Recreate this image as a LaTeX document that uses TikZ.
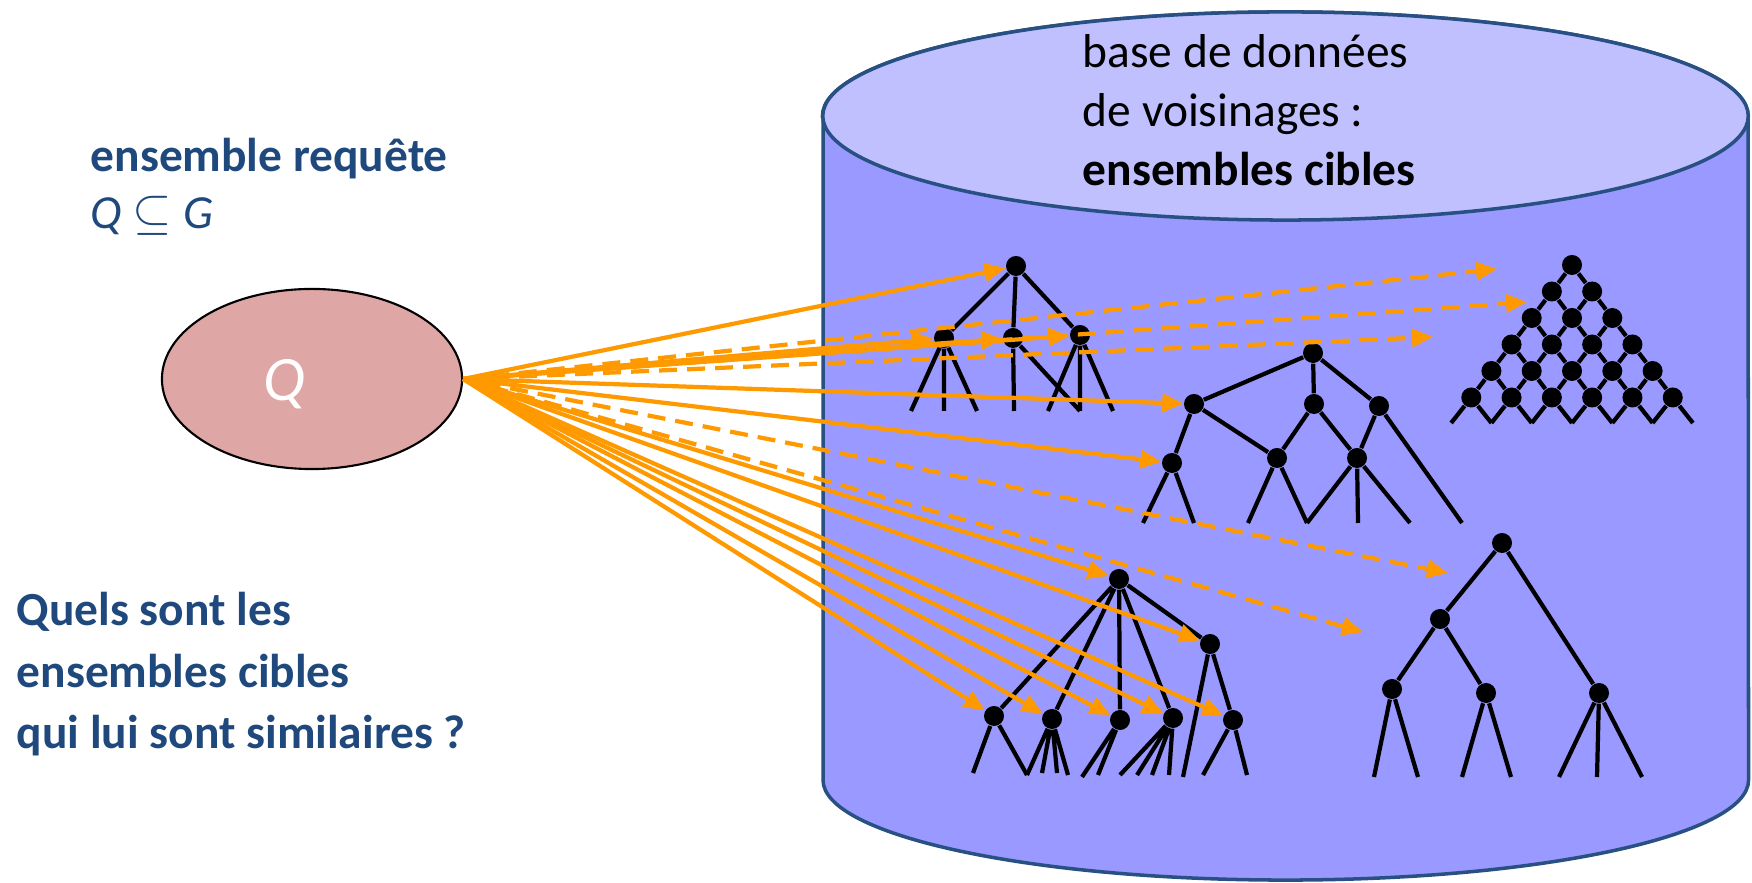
\documentclass[tikz,border=0pt]{standalone}
\usepackage{fontspec}
\setmainfont{Carlito}
\usetikzlibrary{arrows.meta,shapes.geometric}
\definecolor{txtblue}{RGB}{31,73,125}
\definecolor{cylline}{RGB}{40,80,130}
\definecolor{cylbody}{RGB}{153,153,255}
\definecolor{cyltop}{RGB}{192,192,255}
\definecolor{qfill}{RGB}{223,166,166}
\definecolor{arrowor}{RGB}{255,153,0}
\tikzset{
  vtx/.style={circle, fill=black, inner sep=0pt, minimum size=0.2cm},
  edge/.style={draw=black, line width=1.2pt},
  qarrow/.style={draw=arrowor, line width=1.2pt, -{Triangle[length=0.21cm,width=0.18cm]}},
  qdash/.style={qarrow, dash pattern=on 0.18cm off 0.1cm},
  lbl/.style={anchor=base west, align=left, inner sep=0pt, font=\fontsize{13.5}{16.8}\selectfont},
}
\begin{document}
\begin{tikzpicture}[x=0.01cm,y=-0.01cm]
\useasboundingbox (0,0) rectangle (1752,883);
% cylinder
\filldraw[fill=cylbody, draw=cylline, line width=1pt]
  (823,116) -- (823,780) arc[start angle=180, end angle=360, x radius=4.625cm, y radius=1cm]
  -- (1748,116) arc[start angle=0, end angle=180, x radius=4.625cm, y radius=1.04cm] -- cycle;
\filldraw[fill=cyltop, draw=cylline, line width=1pt] (1285.5,116) ellipse [x radius=4.625cm, y radius=1.04cm];
\node[lbl] (dbtext) at (1082,186) {base de données\\de voisinages :\\\textbf{ensembles cibles}};

% texts left
\node[lbl, text=txtblue, font=\fontsize{13.5}{16.3}\selectfont] (qlabel) at (90,229) {\textbf{ensemble requête}\\\textit{Q} $\subseteq$ \textit{G}};
\node[lbl, text=txtblue, font=\fontsize{13.5}{17.5}\selectfont\bfseries] (question) at (16,749) {Quels sont les\\ensembles cibles\\qui lui sont similaires ?};

% query ellipse
\node[ellipse, draw=black, line width=0.6pt, fill=qfill, minimum width=3cm, minimum height=1.8cm, inner sep=0pt] (Q) at (312,379) {};
\node[text=white, font=\fontsize{18}{20}\selectfont\itshape, inner sep=0pt] (qtext) at (285,384) {Q};

% ---- tree 1
\node[vtx] (r1) at (1016,266) {};
\node[vtx] (a1) at (944,338) {};
\node[vtx] (b1) at (1013,338) {};
\node[vtx] (c1) at (1080,335) {};
\foreach \n/\x in {1/911,2/944,3/977,4/1014,5/1080,6/1048,7/1113}{\coordinate (l1\n) at (\x,411);}
\draw[edge] (r1)--(a1) (r1)--(b1) (r1)--(c1)
  (a1)--(l11) (a1)--(l12) (a1)--(l13)
  (b1)--(l14) (b1)--(l15)
  (c1)--(l16) (c1)--(l15) (c1)--(l17);

% ---- tree 2
\node[vtx] (r2) at (1313,353) {};
\node[vtx] (a2) at (1194,404) {};
\node[vtx] (b2) at (1314,404) {};
\node[vtx] (c2) at (1379,406) {};
\node[vtx] (d2) at (1172,463) {};
\node[vtx] (e2) at (1277,458) {};
\node[vtx] (f2) at (1357,458) {};
\foreach \n/\x in {1/1143,2/1194,3/1248,4/1307,5/1358,6/1410,7/1462}{\coordinate (l2\n) at (\x,523);}
\draw[edge] (r2)--(a2) (r2)--(b2) (r2)--(c2)
  (a2)--(d2) (a2)--(e2) (b2)--(e2) (b2)--(f2) (c2)--(f2) (c2)--(l27)
  (d2)--(l21) (d2)--(l22) (e2)--(l23) (e2)--(l24)
  (f2)--(l24) (f2)--(l25) (f2)--(l26);

% ---- tree 3 (lattice)
\foreach \k in {1,...,6}{
  \foreach \i in {1,...,\k}{
    \node[vtx] (t\k\i) at ({1572+(\i-(\k+1)/2)*40.3},{265+(\k-1)*26.5}) {};
  }
}
\foreach \j in {1,...,7}{\coordinate (tl\j) at ({1572+(\j-4)*40.3},423);}
\foreach \k in {1,...,5}{
  \pgfmathtruncatemacro\kn{\k+1}
  \foreach \i in {1,...,\k}{
    \pgfmathtruncatemacro\ii{\i+1}
    \draw[edge] (t\k\i)--(t\kn\i) (t\k\i)--(t\kn\ii);
  }
}
\foreach \i in {1,...,6}{
  \pgfmathtruncatemacro\ii{\i+1}
  \draw[edge] (t6\i)--(tl\i) (t6\i)--(tl\ii);
}

% ---- tree 4
\node[vtx] (r4) at (1119,579) {};
\node[vtx] (a4) at (994,716) {};
\node[vtx] (b4) at (1052,719) {};
\node[vtx] (c4) at (1120,720) {};
\node[vtx] (d4) at (1173,718) {};
\node[vtx] (e4) at (1210,644) {};
\node[vtx] (f4) at (1233,720) {};
\coordinate (l41) at (973,773);
\coordinate (l42) at (1027,775);
\coordinate (l43) at (1042,773);
\coordinate (l44) at (1057,773);
\coordinate (l45) at (1068,775);
\coordinate (l46) at (1082,777);
\coordinate (l47) at (1098,775);
\coordinate (l48) at (1120,775);
\coordinate (l49) at (1137,775);
\coordinate (l4a) at (1152,775);
\coordinate (l4b) at (1169,775);
\coordinate (l4c) at (1183,777);
\coordinate (l4d) at (1203,775);
\coordinate (l4e) at (1247,775);
\draw[edge] (r4)--(a4) (r4)--(b4) (r4)--(c4) (r4)--(d4) (r4)--(e4)
  (e4)--(f4) (e4)--(l4c)
  (a4)--(l41) (a4)--(l42)
  (b4)--(l42) (b4)--(l43) (b4)--(l44) (b4)--(l45)
  (c4)--(l46) (c4)--(l47)
  (d4)--(l48) (d4)--(l49) (d4)--(l4a) (d4)--(l4b)
  (f4)--(l4d) (f4)--(l4e);

% ---- tree 5
\node[vtx] (r5) at (1502,543) {};
\node[vtx] (a5) at (1440,619) {};
\node[vtx] (b5) at (1599,693) {};
\node[vtx] (c5) at (1392,689) {};
\node[vtx] (d5) at (1486,693) {};
\foreach \n/\x in {1/1374,2/1418,3/1462,4/1511,5/1559,6/1597,7/1642}{\coordinate (l5\n) at (\x,777);}
\draw[edge] (r5)--(a5) (r5)--(b5) (a5)--(c5) (a5)--(d5)
  (c5)--(l51) (c5)--(l52) (d5)--(l53) (d5)--(l54)
  (b5)--(l55) (b5)--(l56) (b5)--(l57);

% ---- arrows
\coordinate (da) at (1497,269);
\coordinate (db) at (1527,302);
\coordinate (dc) at (1433,337);
\coordinate (dd) at (1448,573);
\coordinate (de) at (1363,632);
\draw[qdash] (Q.east) -- (da);
\draw[qdash] (Q.east) -- (db);
\draw[qdash] (Q.east) -- (dc);
\draw[qdash, {Triangle[length=0.21cm,width=0.18cm]}-{Triangle[length=0.21cm,width=0.18cm]}] (Q.east) -- (dd);
\draw[qdash] (Q.east) -- (de);
\foreach \t in {r1,a1,b1,c1,a2,d2,r4,e4,a4,b4,c4,d4,f4}{
  \draw[qarrow] (Q.east) -- (\t);
}
\end{tikzpicture}
\end{document}
